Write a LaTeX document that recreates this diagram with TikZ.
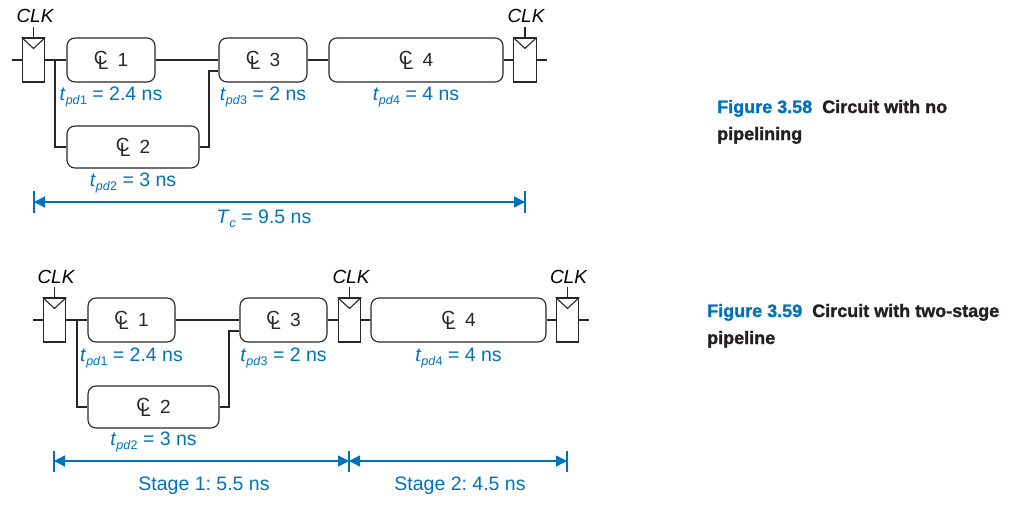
\documentclass[tikz,border=0pt]{standalone}
\usepackage{fontspec}
\setmainfont{Liberation Sans}[BoldFeatures={FakeBold=1.3}]
\usetikzlibrary{arrows.meta}
\definecolor{fblue}{RGB}{0,114,188}
\definecolor{capblk}{RGB}{35,31,32}
\frenchspacing
\newcommand\clsym{\makebox[0pt][l]{\raisebox{2.6pt}{C}}\hspace{4pt}\raisebox{-2.6pt}{L}\hspace{9pt}}
\newcommand\tpd[1]{\textit{t}\raisebox{-4pt}{\fontsize{12.5}{13}\selectfont\textit{pd}#1}}
\begin{document}
\begin{tikzpicture}[x=1pt,y=-1pt,
  wire/.style={line width=1.1pt,black!85},
  reg/.style={draw,line width=1.1pt,black!85,minimum width=22.5pt,minimum height=44pt,inner sep=0pt},
  clbox/.style={draw,line width=1.1pt,black!85,rounded corners=8pt,minimum height=44pt,inner sep=0pt,font=\fontsize{19}{18}\selectfont},
  clk/.style={font=\fontsize{19}{18}\selectfont\itshape,anchor=base,inner sep=0pt},
  lab/.style={font=\fontsize{19.5}{18}\selectfont,text=fblue,anchor=base,inner sep=0pt},
  dim/.style={line width=1.3pt,fblue,{Triangle[length=11pt,width=11pt]}-{Triangle[length=11pt,width=11pt]}},
  dimtick/.style={line width=1.3pt,fblue},
  captext/.style={font=\fontsize{18}{27}\selectfont\bfseries,anchor=base west,align=left,inner sep=0pt,text=capblk}]
\useasboundingbox (0,0) rectangle (1013,506);

% ================= Figure 3.58 =================
\node[reg] (ra) at (33.5,60) {};
\node[reg] (rb) at (525,60) {};
\node[clbox,minimum width=88pt] (c1) at (111,60) {\clsym 1};
\node[clbox,minimum width=132pt,minimum height=42pt] (c2) at (133,147) {\clsym 2};
\node[clbox,minimum width=88pt] (c3) at (263,60) {\clsym 3};
\node[clbox,minimum width=174pt] (c4) at (416,60) {\clsym 4};
\foreach \r in {ra,rb}{
  \draw[wire] (\r.north west) -- ([yshift=-11pt]\r.north) -- (\r.north east);
}
\node[clk] (ka) at (35,23) {CLK};
\node[clk] (kb) at (526,23) {CLK};
\coordinate (kas) at (33.5,27);
\coordinate (kbs) at (525,27);
\draw[wire] (ra.north) -- (kas);
\draw[wire] (rb.north) -- (kbs);
\coordinate (ina) at (12,60);
\coordinate (outa) at (547,60);
\coordinate (ja) at (55,60);
\coordinate (jb) at (209,71);
\draw[wire] (ina) -- (ra.west);
\draw[wire] (ra.east) -- (c1.west);
\draw[wire] (ja) |- (c2.west);
\draw[wire] (c2.east) -| (jb) -- (c3.west |- jb);
\draw[wire] (c1.east) -- (c3.west);
\draw[wire] (c3.east) -- (c4.west);
\draw[wire] (c4.east) -- (rb.west);
\draw[wire] (rb.east) -- (outa);

\node[lab] (l1) at ([yshift=-18pt]c1.south) {\tpd{1} = 2.4 ns};
\node[lab] (l2) at ([yshift=-18pt]c2.south) {\tpd{2} = 3 ns};
\node[lab] (l3) at ([yshift=-18pt]c3.south) {\tpd{3} = 2 ns};
\node[lab] (l4) at ([yshift=-18pt]c4.south) {\tpd{4} = 4 ns};

\coordinate (ta) at (34,202);
\coordinate (tb) at (525,202);
\draw[dim] (ta) -- (tb);
\draw[dimtick] ([yshift=11pt]ta) -- ([yshift=-11pt]ta);
\draw[dimtick] ([yshift=11pt]tb) -- ([yshift=-11pt]tb);
\node[lab] (tc) at (264,223) {\textit{T}\raisebox{-4pt}{\fontsize{12.5}{13}\selectfont\textit{c}} = 9.5 ns};

\node[captext] (cap1) at (717,140) {\textcolor{fblue}{Figure 3.58}\ \ Circuit with no\\pipelining};

% ================= Figure 3.59 =================
\node[reg] (pa) at (54.5,320) {};
\node[reg] (pb) at (349.5,320) {};
\node[reg] (pc) at (567.5,320) {};
\node[clbox,minimum width=87pt] (d1) at (131.5,320) {\clsym 1};
\node[clbox,minimum width=131pt,minimum height=42pt] (d2) at (153.5,407) {\clsym 2};
\node[clbox,minimum width=87pt] (d3) at (283.5,320) {\clsym 3};
\node[clbox,minimum width=175pt] (d4) at (458.5,320) {\clsym 4};
\foreach \r in {pa,pb,pc}{
  \draw[wire] (\r.north west) -- ([yshift=-11pt]\r.north) -- (\r.north east);
}
\node[clk] (qa) at (56,283) {CLK};
\node[clk] (qb) at (351,283) {CLK};
\node[clk] (qc) at (568.5,283) {CLK};
\coordinate (qas) at (54.5,287);
\coordinate (qbs) at (349.5,287);
\coordinate (qcs) at (567.5,287);
\draw[wire] (pa.north) -- (qas);
\draw[wire] (pb.north) -- (qbs);
\draw[wire] (pc.north) -- (qcs);
\coordinate (inb) at (33,320);
\coordinate (outb) at (589,320);
\coordinate (jc) at (77,320);
\coordinate (jd) at (229,331);
\draw[wire] (inb) -- (pa.west);
\draw[wire] (pa.east) -- (d1.west);
\draw[wire] (jc) |- (d2.west);
\draw[wire] (d2.east) -| (jd) -- (d3.west |- jd);
\draw[wire] (d1.east) -- (d3.west);
\draw[wire] (d3.east) -- (pb.west);
\draw[wire] (pb.east) -- (d4.west);
\draw[wire] (d4.east) -- (pc.west);
\draw[wire] (pc.east) -- (outb);

\node[lab] (m1) at ([yshift=-19pt]d1.south) {\tpd{1} = 2.4 ns};
\node[lab] (m2) at ([yshift=-17pt]d2.south) {\tpd{2} = 3 ns};
\node[lab] (m3) at ([yshift=-19pt]d3.south) {\tpd{3} = 2 ns};
\node[lab] (m4) at ([yshift=-19pt]d4.south) {\tpd{4} = 4 ns};

\coordinate (sa) at (54,461);
\coordinate (sb) at (349,461);
\coordinate (sc) at (567,461);
\draw[dim] (sa) -- (sb);
\draw[dim] (sb) -- (sc);
\foreach \s in {sa,sb,sc}{
  \draw[dimtick] ([yshift=10.5pt]\s) -- ([yshift=-10.5pt]\s);
}
\node[lab] (s1) at (204,490) {Stage 1: 5.5 ns};
\node[lab] (s2) at (460,490) {Stage 2: 4.5 ns};

\node[captext] (cap2) at (707,344) {\textcolor{fblue}{Figure 3.59}\ \ Circuit with two-stage\\pipeline};
\end{tikzpicture}
\end{document}
